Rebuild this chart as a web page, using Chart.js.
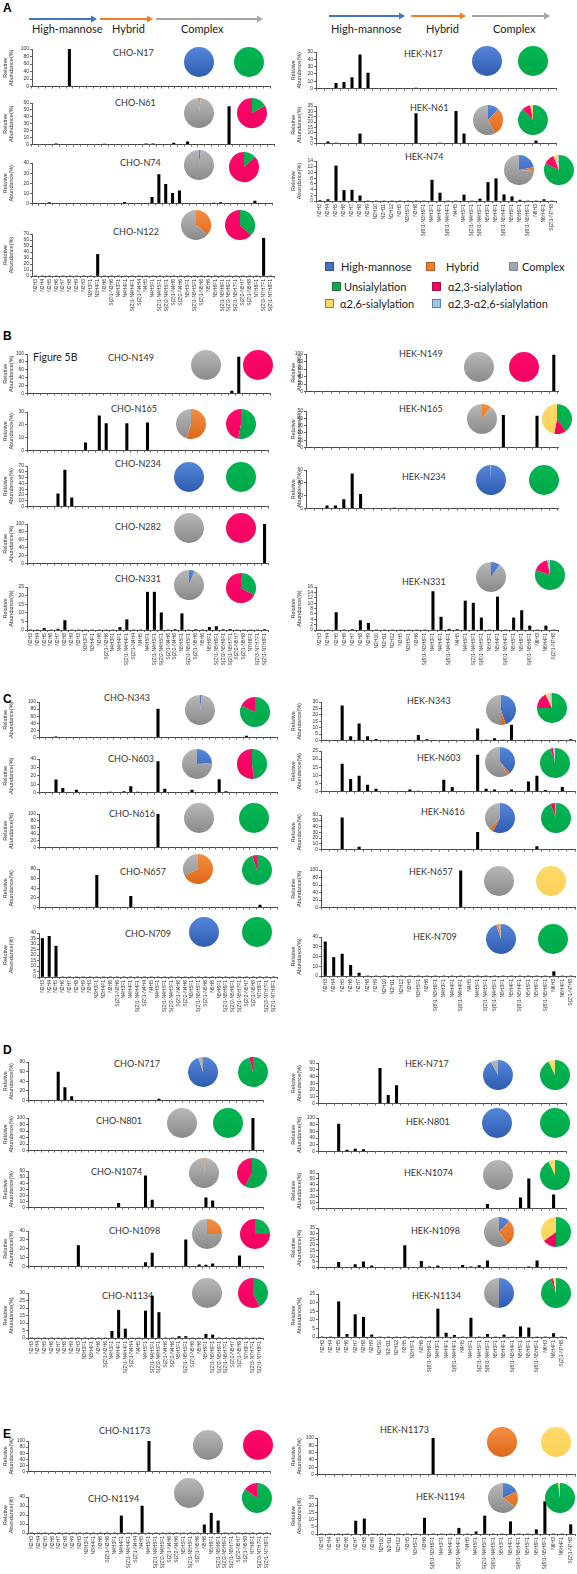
<!DOCTYPE html>
<html><head><meta charset="utf-8">
<script src="https://cdn.jsdelivr.net/npm/chart.js@4.4.0/dist/chart.umd.min.js"></script>
<style>
html,body{margin:0;padding:0;background:#fff;}
body{width:577px;height:1574px;position:relative;overflow:hidden;font-family:Lato,'Liberation Sans',sans-serif;}
canvas{position:absolute;}
.t{position:absolute;white-space:nowrap;color:#333;font-size:9px;line-height:12px;}
.h{position:absolute;white-space:nowrap;color:#222;font-size:11px;line-height:13px;}
.p{position:absolute;font-family:'Liberation Sans',Arial,sans-serif;font-weight:bold;font-size:12px;color:#000;}
.sq{position:absolute;width:9px;height:9px;box-sizing:border-box;}
</style></head><body>
<svg style="position:absolute;left:0;top:0" width="577" height="40">
<line x1="29" y1="19" x2="92" y2="19" stroke="#4472c4" stroke-width="2"/><polygon points="91,15.5 97,19 91,22.5" fill="#4472c4"/>
<line x1="100" y1="19" x2="148" y2="19" stroke="#ed7d31" stroke-width="2"/><polygon points="147,15.5 153,19 147,22.5" fill="#ed7d31"/>
<line x1="156" y1="19" x2="258" y2="19" stroke="#a5a5a5" stroke-width="2"/><polygon points="257,15.5 263,19 257,22.5" fill="#a5a5a5"/>
<line x1="329" y1="16" x2="400" y2="16" stroke="#4472c4" stroke-width="2"/><polygon points="399,12.5 405,16 399,19.5" fill="#4472c4"/>
<line x1="411" y1="16" x2="461" y2="16" stroke="#ed7d31" stroke-width="2"/><polygon points="460,12.5 466,16 460,19.5" fill="#ed7d31"/>
<line x1="472" y1="16" x2="545" y2="16" stroke="#a5a5a5" stroke-width="2"/><polygon points="544,12.5 550,16 544,19.5" fill="#a5a5a5"/>
</svg>
<div class="h" style="left:32px;top:22px">High-mannose</div>
<div class="h" style="left:112px;top:22px">Hybrid</div>
<div class="h" style="left:181px;top:22px">Complex</div>
<div class="h" style="left:331px;top:22px">High-mannose</div>
<div class="h" style="left:426px;top:22px">Hybrid</div>
<div class="h" style="left:493px;top:22px">Complex</div>
<div class="p" style="left:3px;top:1px">A</div>
<div class="p" style="left:3px;top:329px">B</div>
<div class="p" style="left:3px;top:692px">C</div>
<div class="p" style="left:3px;top:1043px">D</div>
<div class="p" style="left:3px;top:1427px">E</div>
<div class="h" style="left:33px;top:351px;font-size:10.5px">Figure 5B</div>
<div class="sq" style="left:325px;top:262px;background:#4472c4;border:1px solid #2f528f"></div><div class="h" style="left:341px;top:260px">High-mannose</div>
<div class="sq" style="left:426px;top:262px;background:#ed7d31;border:1px solid #ae5a21"></div><div class="h" style="left:446px;top:260px">Hybrid</div>
<div class="sq" style="left:509px;top:262px;background:#a5a5a5;border:1px solid #7a8aa8"></div><div class="h" style="left:522px;top:260px">Complex</div>
<div class="sq" style="left:332px;top:282px;background:#00b050;border:1px solid #2e6b3e"></div><div class="h" style="left:344px;top:280px">Unsialylation</div>
<div class="sq" style="left:432px;top:282px;background:#ff0066;border:1px solid #a0144a"></div><div class="h" style="left:448px;top:280px">α2,3-sialylation</div>
<div class="sq" style="left:325px;top:299px;background:#ffd966;border:1px solid #8f8040"></div><div class="h" style="left:340px;top:297px">α2,6-sialylation</div>
<div class="sq" style="left:432px;top:299px;background:#9dc3e6;border:1px solid #5a7fa8"></div><div class="h" style="left:448px;top:297px">α2,3-α2,6-sialylation</div>
<script>
// ---------- categories ----------
const choLabels = ["N2H3","N2H4","N2H5","N2H6","N2H7","N2H8","N2H9","N3H3","N3H3F1","N3H4F1","N3H6","S(2)1-N3H6","N4H3F1","N4H4F1","S(2)1-N4H4F1","S(2)1-N4H4","N4H5","N4H5F1","S(2)1-N4H5F1","S(2)2-N4H5F1","S(2)1-N4H6","S(2)2-N4H6","N5H5F1","S(2)1-N5H5F1","S(2)1-N5H6","N5H6","N5H6F1","S(2)1-N5H6F1","S(2)2-N5H6F1","S(2)1-N5H7F1","S(2)2-N5H7","S(2)1-N5H8","N7H8F1","S(2)3-N7H7F1","S(2)1-N7H8F1"];
const hekLabels = ["N2H3","N2H4","N2H5","N2H6","N2H7","N2H8","N2H9","N2H10","N2H11","N2H12","N3H5","N3H5F1","N3H6","S(6)1-N3H6F1","N4H3F1","N4H4F1","S(6)1-N4H4F1","N4H5","N4H5F1","S(2)1-N4H5F1","S(6)1-N4H5F1","N5H3F1","N5H4F1","S(6)1-N5H4F1","N5H5F1","N5H6F1","S(6)1-N5H6F1","N6H3","N6H4F1","S(2)1-N7H8"];
const typeLabels = ["High-mannose","Hybrid","Complex"];
const sialLabels = ["Unsialylation","α2,3-sialylation","α2,6-sialylation","α2,3-α2,6-sialylation"];

// ---------- CHO relative abundance (%) ----------
const cho_N17  = [0,0,0,0,0, 100,0,0,0,0, 0,0,0,0,0, 0,0,0,0,0, 0,0,0,0,0, 0,0,0,0,0, 0,0,0,0,0];
const cho_N61  = [0,0,0,1,0, 0,0,0,0,0, 0.5,0,0,0,0, 0,1,1,0,0, 2,0,4,0,0, 0,0,0,55,0, 0,0,0,0,0];
const cho_N74  = [0,0,0.8,0,0, 0,0,0,0,0, 0,0,0,1.2,0, 0,0,6,28.5,19, 10,12.5,0,0,0, 0,0.4,0.8,0,0, 0,0,2.5,0,0];
const cho_N122 = [0,0,0,0,0, 0,0,0,0,36, 0,0,0,0,0, 0,0,0,0,0, 0,0,0,0,0, 0,0,0,0,0, 0,0,0,63,0];
const cho_N149 = [0,0,0,0,0, 0,0,0,0,0, 0,0,0,0,0, 0,0,0,0,0, 0,0,0,0,0, 0,0,0,0,6, 92,0,0,0,0];
const cho_N165 = [0,0,0,0,0, 0,0,0,6,0, 27,21,0,0,21, 0,0,21.5,0,0, 0,0,0,0,0, 0,0,0,0,0, 0,0,0,0,0];
const cho_N234 = [0,0,0,0,22, 63,15,0,0,0, 0,0,0,0,0, 0,0,0,0,0, 0,0,0,0,0, 0,0,0,0,0, 0,0,0,0,0];
const cho_N282 = [0,0,0,0,0, 0,0,0,0,0, 0,0,0,0,0, 0,0,0,0,0, 0,0,0,0,0, 0,0,0,0,0, 0,0,0,0,100];
const cho_N331 = [0,0,1,0,0.5, 5.5,0,0,0,0, 0,0,0,1.5,6, 0,0,22,22,10, 0,0.3,9.5,0,0.3, 0,1.5,2,0.3,0.2, 0,0,0,0,0.3];
const cho_N343 = [0,0,2,0,0, 0,0,0,0,0, 0,0,0,0,0, 0,0,80,0,0, 0,0,0,0,0, 0,0,0,0,0, 4,0,0,0,0];
const cho_N603 = [0,0,15,5,0, 3,0,0,0,0, 0.5,0,1,7,0.5, 0,0,37,4,0, 0,0,3,0,0, 0,15.5,1,0,0, 0,0,0,0,0];
const cho_N616 = [0,0,0,0,0, 0,0,0,0,0, 0,0,0,0,0, 0,0,100,0,0, 0,0,0,0,0, 0,0,0,0,0, 0,0,0,0,0];
const cho_N657 = [0,0,0,0,0, 0,0,0,67,0, 0,0,0,23,0, 0,0,1,0,0, 0,0,0,0,0, 0,0,0,0,0, 0,0,5,0,0];
const cho_N709 = [35,37,28,0,0, 0,0,0,0,0, 0,0,0,0,0, 0,0,0,0,0, 0,0,0,0,0, 0,0,0,0,0, 0,0,0,0,0];
const cho_N717 = [0,0,0,0,59, 27,8,0,0,0, 0,0,0,0,0, 0,0,0,0,3, 0,0,0,0,0, 0,0,0,0,0, 0,0,0,0,0];
const cho_N801 = [0,0,0,0,0, 0,0,0,0,0, 0,0,0,0,0, 0,0,0,0,0, 0,0,0,0,0, 0,0,0,0,0, 0,0,0,100,0];
const cho_N1074 = [0,0,0,0,0, 0,0,0,0,0, 0,0,0,7,0, 0,0,52,12,0, 0,0,0,0,0, 0,16,11,0,0, 0,0,0,0,0];
const cho_N1098 = [0,0,0,0,0, 0,0,23.5,0,0, 0,0,0,0,0, 0,0,4.5,15,0, 0,0,0,30,0, 2,1.5,3,0,0, 0,12,0,0,0];
const cho_N1134 = [0,0,0,0,0, 0,0,0,0,0, 0,0,4.5,18.5,6, 0,0,18,28,17, 0,0,1,1,0, 0,2.5,2,0,0, 0,0,0,0,0];
const cho_N1173 = [0,0,0,0,0, 0,0,0,0,0, 0,0,0,0,0, 0,0,100,0,0, 0,0,0,0,0, 0,0,0,0,0, 0,0,0,0,0];
const cho_N1194 = [0,0,0,0,0, 0,0,0,0,0, 0,0,0,19,0, 0,30,0,0,0, 0,0,0,0,0, 9,22,13.5,0,0, 0,0,0,0,0];

// ---------- HEK relative abundance (%) ----------
const hek_N17  = [0,0,7,8.5,15, 46,21,0,0,0, 0,0,0.5,0,0, 0,0,0,0,0, 0,0,0,0,0, 0,0,0,0,0];
const hek_N61  = [0,1.5,0.5,0,0, 9,0,0,0,0, 0,0,28,0,0, 0.5,0,30,9,0, 0,0,0,0,0, 0,0,2.5,0,0];
const hek_N74  = [0.2,0.5,12.3,3.7,3.8, 1.8,0,0,0,0, 0,0,0,0,7.3, 2.8,0,0,2.1,0, 0.7,6.5,7.8,2.2,1.5, 0.3,0,0,0.5,0];
const hek_N149 = [0,0,0,0,0, 0,0,0,0,0, 0,0,0,0,0, 0,0,0,0,0, 0,0,0,0,0, 0,0,0,0,97];
const hek_N165 = [0,0,0,0,0, 0,0,0,0,0, 0,0,0,0,0, 0,0,0,0,0, 0,0,0,44,0, 0,0,43,0,0];
const hek_N234 = [0,0,4,4,14, 54,22,0,0,0, 0.5,0,0,0,0, 0,0,0,0,0, 0,0,0,0,0, 0,0,0,0,0];
const hek_N331 = [0,0,6.5,0,0.2, 3.5,2.5,0,0,0, 0,0,0,0,14.3, 4.8,0.3,0.2,10.8,10, 4.5,0,12.3,0,4.5, 7.2,1.5,0,1.5,0];
const hek_N343 = [0,0,27,3,13, 3,1,0,0,0, 0,4,0.7,0,0, 0,0,0,9,0.3, 1.5,0.3,12,0,0.3, 0,0,0,0,0.7];
const hek_N603 = [0,0,17,7.5,9.5, 4,1.5,0,0,0, 1,0.3,0,0,7, 2.5,0,0,22.5,1.5, 1,0,1,0,6, 9.5,0.7,0,2.5,0];
const hek_N616 = [0,0,55,0,4, 0,0,0,0,0, 0,0,0,0,0, 0,0,0,30,0, 0,0,0,0,0, 5,0,0,0,0];
const hek_N657 = [0,0,0,0,0, 0,0,0,0,0, 0,0,0,0,0, 0,98,0,0,0, 0,0,0,0,0, 0,0,0,0,0];
const hek_N709 = [35,19,22.5,11,3, 0,0,0,0,0, 0,0,0,0,0, 0,0,0,0,0, 0,0,0,0,0, 0,0,4.5,0,0];
const hek_N717 = [0,0,0,0,0, 0,0,52,12,26.5, 0,0,0,0,0, 0,0,0,0,0, 0,0,0,0,0, 0,0,0,0,0];
const hek_N801 = [0,0,82,4,7, 6,0,0,0,0, 0,0,0,0,0, 0,0,0,0,0, 0,0,0,0,0, 0,0,0,0,0];
const hek_N1074 = [0,0,0,0,0, 0,0,0,0,0, 0,0,0,0,0, 0,0,0,0,0, 7,0,0,0,18, 50,0,0,23,0];
const hek_N1098 = [0,0,4.5,0,2.5, 5,1.5,0,0,0, 19.5,0,5.5,0.7,1.5, 0,0,2,0.7,1.8, 5.8,0,0,0,0, 0.5,6,0,0,0];
const hek_N1134 = [0,0,20.5,1.5,13, 11.5,1.2,0,0,0, 0,0,0,0,16.3, 2.3,1,0,11,0, 1.5,0,1.2,0,6, 5.3,0,0,2,0];
const hek_N1173 = [0,0,0,0,0, 0,0,0,0,0, 0,0,0,100,0, 0,0,0,0,0, 0,0,0,0,0, 0,0,0,0,0];
const hek_N1194 = [0,0,0,0,9, 10.5,0,0,0,0, 0,0,11,0,0, 0,4,0,1.5,12.5, 0,0,8.5,0,0, 3,22.5,0,0,6.5];

// ---------- pies: glycan type [HM, Hybrid, Complex] and sialylation [Unsial, a2,3, a2,6, a2,3-a2,6] ----------
const choType_N17=[100,0,0],  choSial_N17=[100,0,0,0];
const choType_N61=[1,1,98],   choSial_N61=[17,83,0,0];
const choType_N74=[2,0,98],   choSial_N74=[13,87,0,0];
const choType_N122=[0,36,64], choSial_N122=[37,63,0,0];
const choType_N149=[0,0,100], choSial_N149=[0,100,0,0];
const choType_N165=[0,55,45], choSial_N165=[53,47,0,0];
const choType_N234=[100,0,0], choSial_N234=[100,0,0,0];
const choType_N282=[0,0,100], choSial_N282=[0,100,0,0];
const choType_N331=[6,0,94],  choSial_N331=[33,67,0,0];
const choType_N343=[2,0,98],  choSial_N343=[82,18,0,0];
const choType_N603=[24,1,75], choSial_N603=[48,52,0,0];
const choType_N616=[0,0,100], choSial_N616=[100,0,0,0];
const choType_N657=[0,68,32], choSial_N657=[95,5,0,0];
const choType_N709=[100,0,0], choSial_N709=[100,0,0,0];
const choType_N717=[95,0,5],  choSial_N717=[96,4,0,0];
const choType_N801=[0,0,100], choSial_N801=[100,0,0,0];
const choType_N1074=[0,1,99], choSial_N1074=[58,42,0,0];
const choType_N1098=[0,25,75],choSial_N1098=[25,75,0,0];
const choType_N1134=[0,0,100],choSial_N1134=[43,57,0,0];
const choType_N1173=[0,0,100],choSial_N1173=[0,100,0,0];
const choType_N1194=[0,0,100],choSial_N1194=[85,15,0,0];
const hekType_N17=[100,0,0],  hekSial_N17=[100,0,0,0];
const hekType_N61=[12,30,58], hekSial_N61=[88,9,3,0];
const hekType_N74=[22,4,74],  hekSial_N74=[82,12,4,2];
const hekType_N149=[0,0,100], hekSial_N149=[0,100,0,0];
const hekType_N165=[0,10,90], hekSial_N165=[40,13,47,0];
const hekType_N234=[99.5,0,0.5], hekSial_N234=[100,0,0,0];
const hekType_N331=[10,0,90], hekSial_N331=[80,17,0,3];
const hekType_N343=[45,5,50], hekSial_N343=[75,18,4,3];
const hekType_N603=[38,3,59], hekSial_N603=[95,3,1,1];
const hekType_N616=[58,4,38], hekSial_N616=[94,5,0,1];
const hekType_N657=[0,0,100], hekSial_N657=[0,0,100,0];
const hekType_N709=[95,3,2],  hekSial_N709=[100,0,0,0];
const hekType_N717=[92,0,8],  hekSial_N717=[93,0,7,0];
const hekType_N801=[100,0,0], hekSial_N801=[100,0,0,0];
const hekType_N1074=[0,0,100],hekSial_N1074=[93,0,7,0];
const hekType_N1098=[12,28,60],hekSial_N1098=[50,15,35,0];
const hekType_N1134=[50,0,50],hekSial_N1134=[94,3,3,0];
const hekType_N1173=[0,100,0],hekSial_N1173=[0,0,100,0];
const hekType_N1194=[18,17,65],hekSial_N1194=[98,0,2,0];

// ---------- layout (positions only) ----------
const C=0,H=1;
const panels = [
 {n:'CHO-N17',c:C,d:cho_N17,t:choType_N17,s:choSial_N17,top:49,bot:87,xl:32,xr:270,ym:100,st:20,tx:113,ty:53,p1:[199,62],p2:[249,62]},
 {n:'CHO-N61',c:C,d:cho_N61,t:choType_N61,s:choSial_N61,top:103,bot:145,xl:32,xr:274,ym:60,st:10,tx:115,ty:103,p1:[199,113],p2:[252,113]},
 {n:'CHO-N74',c:C,d:cho_N74,t:choType_N74,s:choSial_N74,top:163,bot:204,xl:32,xr:272,ym:40,st:10,tx:120,ty:163,p1:[199,165],p2:[244,167]},
 {n:'CHO-N122',c:C,d:cho_N122,t:choType_N122,s:choSial_N122,top:234,bot:276,xl:32,xr:274,ym:70,st:10,tx:113,ty:232,p1:[196,225],p2:[240,225],lab:1},
 {n:'CHO-N149',c:C,d:cho_N149,t:choType_N149,s:choSial_N149,top:354,bot:394,xl:27,xr:270,ym:100,st:20,tx:108,ty:358,p1:[206,365],p2:[258,365]},
 {n:'CHO-N165',c:C,d:cho_N165,t:choType_N165,s:choSial_N165,top:412,bot:451,xl:27,xr:268,ym:30,st:10,tx:111,ty:409,p1:[191,424],p2:[241,424]},
 {n:'CHO-N234',c:C,d:cho_N234,t:choType_N234,s:choSial_N234,top:466,bot:507,xl:27,xr:268,ym:70,st:10,tx:115,ty:464,p1:[189,477],p2:[241,477]},
 {n:'CHO-N282',c:C,d:cho_N282,t:choType_N282,s:choSial_N282,top:524,bot:564,xl:27,xr:268,ym:100,st:20,tx:115,ty:527,p1:[189,528],p2:[241,528]},
 {n:'CHO-N331',c:C,d:cho_N331,t:choType_N331,s:choSial_N331,top:587,bot:630,xl:27,xr:268,ym:25,st:5,tx:115,ty:579,p1:[189,585],p2:[241,588],lab:1},
 {n:'CHO-N343',c:C,d:cho_N343,t:choType_N343,s:choSial_N343,top:702,bot:738,xl:39,xr:277,ym:100,st:20,tx:104,ty:698,p1:[200,710],p2:[255,712]},
 {n:'CHO-N603',c:C,d:cho_N603,t:choType_N603,s:choSial_N603,top:759,bot:793,xl:39,xr:277,ym:40,st:10,tx:108,ty:759,p1:[197,764],p2:[252,764]},
 {n:'CHO-N616',c:C,d:cho_N616,t:choType_N616,s:choSial_N616,top:814,bot:848,xl:39,xr:277,ym:100,st:20,tx:109,ty:814,p1:[199,818],p2:[254,818]},
 {n:'CHO-N657',c:C,d:cho_N657,t:choType_N657,s:choSial_N657,top:869,bot:908,xl:39,xr:277,ym:80,st:20,tx:120,ty:872,p1:[198,869],p2:[257,870]},
 {n:'CHO-N709',c:C,d:cho_N709,t:choType_N709,s:choSial_N709,top:933,bot:977,xl:39,xr:277,ym:40,st:5,tx:125,ty:934,p1:[204,932],p2:[257,932],lab:1},
 {n:'CHO-N717',c:C,d:cho_N717,t:choType_N717,s:choSial_N717,top:1062,bot:1101,xl:28,xr:263,ym:80,st:20,tx:114,ty:1064,p1:[203,1072],p2:[253,1072]},
 {n:'CHO-N801',c:C,d:cho_N801,t:choType_N801,s:choSial_N801,top:1118,bot:1151,xl:28,xr:263,ym:100,st:20,tx:96,ty:1121,p1:[182,1123],p2:[228,1123]},
 {n:'CHO-N1074',c:C,d:cho_N1074,t:choType_N1074,s:choSial_N1074,top:1171,bot:1208,xl:28,xr:263,ym:60,st:10,tx:91,ty:1172,p1:[204,1173],p2:[252,1173]},
 {n:'CHO-N1098',c:C,d:cho_N1098,t:choType_N1098,s:choSial_N1098,top:1231,bot:1267,xl:28,xr:263,ym:40,st:10,tx:109,ty:1231,p1:[207,1234],p2:[255,1234]},
 {n:'CHO-N1134',c:C,d:cho_N1134,t:choType_N1134,s:choSial_N1134,top:1293,bot:1338,xl:28,xr:263,ym:30,st:5,tx:102,ty:1296,p1:[207,1293],p2:[253,1293],lab:1},
 {n:'CHO-N1173',c:C,d:cho_N1173,t:choType_N1173,s:choSial_N1173,top:1441,bot:1472,xl:28,xr:270,ym:100,st:20,tx:99,ty:1431,p1:[208,1445],p2:[258,1445]},
 {n:'CHO-N1194',c:C,d:cho_N1194,t:choType_N1194,s:choSial_N1194,top:1497,bot:1533,xl:28,xr:270,ym:40,st:10,tx:88,ty:1499,p1:[189,1493],p2:[257,1498],lab:1},

 {n:'HEK-N17',c:H,d:hek_N17,t:hekType_N17,s:hekSial_N17,top:52,bot:89,xl:316,xr:556,ym:50,st:10,tx:404,ty:54,p1:[487,61],p2:[533,61]},
 {n:'HEK-N61',c:H,d:hek_N61,t:hekType_N61,s:hekSial_N61,top:106,bot:144,xl:316,xr:556,ym:35,st:5,tx:410,ty:108,p1:[488,120],p2:[533,120]},
 {n:'HEK-N74',c:H,d:hek_N74,t:hekType_N74,s:hekSial_N74,top:161,bot:201,xl:316,xr:556,ym:14,st:2,tx:405,ty:157,p1:[519,170],p2:[559,170],lab:1},
 {n:'HEK-N149',c:H,d:hek_N149,t:hekType_N149,s:hekSial_N149,top:354,bot:392,xl:306,xr:558,ym:100,st:20,tx:399,ty:354,p1:[479,367],p2:[524,367]},
 {n:'HEK-N165',c:H,d:hek_N165,t:hekType_N165,s:hekSial_N165,top:411,bot:448,xl:306,xr:558,ym:50,st:10,tx:399,ty:409,p1:[482,419],p2:[557,419]},
 {n:'HEK-N234',c:H,d:hek_N234,t:hekType_N234,s:hekSial_N234,top:470,bot:509,xl:306,xr:558,ym:60,st:20,tx:402,ty:477,p1:[491,480],p2:[544,480]},
 {n:'HEK-N331',c:H,d:hek_N331,t:hekType_N331,s:hekSial_N331,top:587,bot:630,xl:316,xr:558,ym:16,st:2,tx:402,ty:582,p1:[491,577],p2:[550,575],lab:1},
 {n:'HEK-N343',c:H,d:hek_N343,t:hekType_N343,s:hekSial_N343,top:702,bot:741,xl:321,xr:575,ym:30,st:5,tx:407,ty:701,p1:[501,710],p2:[552,708]},
 {n:'HEK-N603',c:H,d:hek_N603,t:hekType_N603,s:hekSial_N603,top:751,bot:792,xl:321,xr:575,ym:25,st:5,tx:417,ty:758,p1:[500,762],p2:[555,763]},
 {n:'HEK-N616',c:H,d:hek_N616,t:hekType_N616,s:hekSial_N616,top:815,bot:850,xl:321,xr:575,ym:60,st:10,tx:421,ty:812,p1:[500,818],p2:[556,818]},
 {n:'HEK-N657',c:H,d:hek_N657,t:hekType_N657,s:hekSial_N657,top:870,bot:908,xl:321,xr:575,ym:100,st:20,tx:409,ty:872,p1:[499,881],p2:[551,881]},
 {n:'HEK-N709',c:H,d:hek_N709,t:hekType_N709,s:hekSial_N709,top:937,bot:976,xl:321,xr:575,ym:40,st:10,tx:413,ty:937,p1:[501,939],p2:[553,939],lab:1},
 {n:'HEK-N717',c:H,d:hek_N717,t:hekType_N717,s:hekSial_N717,top:1063,bot:1104,xl:318,xr:566,ym:60,st:10,tx:405,ty:1064,p1:[498,1075],p2:[555,1075]},
 {n:'HEK-N801',c:H,d:hek_N801,t:hekType_N801,s:hekSial_N801,top:1118,bot:1152,xl:318,xr:566,ym:100,st:20,tx:406,ty:1122,p1:[497,1123],p2:[555,1123]},
 {n:'HEK-N1074',c:H,d:hek_N1074,t:hekType_N1074,s:hekSial_N1074,top:1173,bot:1209,xl:318,xr:566,ym:60,st:10,tx:404,ty:1173,p1:[498,1175],p2:[555,1175]},
 {n:'HEK-N1098',c:H,d:hek_N1098,t:hekType_N1098,s:hekSial_N1098,top:1228,bot:1268,xl:318,xr:566,ym:35,st:5,tx:411,ty:1231,p1:[499,1232],p2:[556,1232]},
 {n:'HEK-N1134',c:H,d:hek_N1134,t:hekType_N1134,s:hekSial_N1134,top:1294,bot:1337,xl:318,xr:566,ym:25,st:5,tx:412,ty:1296,p1:[499,1293],p2:[556,1293],lab:1},
 {n:'HEK-N1173',c:H,d:hek_N1173,t:hekType_N1173,s:hekSial_N1173,top:1438,bot:1475,xl:317,xr:575,ym:100,st:20,tx:380,ty:1430,p1:[502,1442],p2:[556,1442]},
 {n:'HEK-N1194',c:H,d:hek_N1194,t:hekType_N1194,s:hekSial_N1194,top:1498,bot:1534,xl:317,xr:575,ym:25,st:5,tx:416,ty:1497,p1:[503,1498],p2:[560,1498],lab:1}
];

const typeColors = [['#5586da','#2f5cb2'],['#f58d42','#de6818'],['#b8b8b8','#8a8a8a']];
const sialColors = [['#00b652','#00a84a'],['#ff0a6c','#f2005f'],['#ffdb6a','#fbd158'],['#a5c9ea','#8fb9e0']];
const colStart = [2,290];
const PAD_TOP = 5, PAD_RIGHT = 4, R = 15;

function addTitle(p){
  const d=document.createElement('div'); d.className='t';
  d.textContent=p.n; d.style.left=p.tx+'px'; d.style.top=(p.ty-6)+'px';
  document.body.appendChild(d);
}

function barChart(p){
  const cv=document.createElement('canvas');
  const left=colStart[p.c];
  const yW=p.xl-left;
  const xH=p.lab?44:3;
  cv.width=p.xr-left+PAD_RIGHT;
  cv.height=PAD_TOP+(p.bot-p.top)+xH;
  cv.style.left=left+'px'; cv.style.top=(p.top-PAD_TOP)+'px';
  document.body.appendChild(cv);
  new Chart(cv,{type:'bar',
    data:{labels:p.c===C?choLabels:hekLabels,datasets:[{data:p.d,backgroundColor:'#000',barThickness:2.4}]},
    options:{responsive:false,animation:false,events:[],
      layout:{padding:{top:PAD_TOP,right:PAD_RIGHT,left:0,bottom:0}},
      plugins:{legend:{display:false},tooltip:{enabled:false}},
      scales:{
        x:{grid:{display:true,drawOnChartArea:false,drawTicks:true,tickLength:2,color:'#666',offset:true},
           border:{display:true,color:'#555',width:1},
           ticks:{display:!!p.lab,autoSkip:false,maxRotation:90,minRotation:90,padding:1,color:'#333',
                  font:{size:5,family:'Liberation Sans'}},
           afterFit:s=>{s.height=xH;}},
        y:{min:0,max:p.ym,
           grid:{drawOnChartArea:false,drawTicks:true,tickLength:2,color:'#666'},
           border:{display:true,color:'#555',width:1},
           ticks:{stepSize:p.st,autoSkip:false,padding:1,color:'#333',font:{size:5,family:'Liberation Sans',lineHeight:1}},
           title:{display:true,text:['Relative','Abundance(%)'],color:'#333',padding:0,
                  font:{size:5.5,family:'Liberation Sans',lineHeight:1.15}},
           afterFit:s=>{s.width=yW;}}
      }}});
}

function pie(center,vals,cols,labels){
  const cv=document.createElement('canvas');
  const s=2*R+2;
  cv.width=s; cv.height=s;
  cv.style.left=(center[0]-R-1)+'px'; cv.style.top=(center[1]-R-1)+'px';
  document.body.appendChild(cv);
  new Chart(cv,{type:'pie',
    data:{labels,datasets:[{data:vals,borderWidth:0,
      backgroundColor:(ctx)=>{
        const c=cols[ctx.dataIndex]; const a=ctx.chart.chartArea;
        if(!a) return c[0];
        const g=ctx.chart.ctx.createLinearGradient(0,a.top,0,a.bottom);
        g.addColorStop(0,c[0]); g.addColorStop(1,c[1]); return g;
      }}]},
    options:{responsive:false,animation:false,events:[],layout:{padding:1},
      plugins:{legend:{display:false},tooltip:{enabled:false}}}});
}

panels.forEach(p=>{ addTitle(p); barChart(p); });
panels.forEach(p=>{ pie(p.p1,p.t,typeColors,typeLabels); pie(p.p2,p.s,sialColors,sialLabels); });
</script>
</body></html>
